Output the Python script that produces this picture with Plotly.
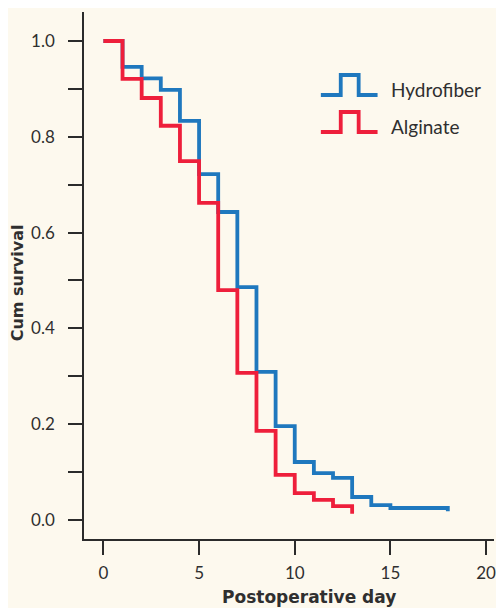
import plotly.graph_objects as go

# Data
days_hydro = [0, 1, 2, 3, 4, 5, 6, 7, 8, 9, 10, 11, 12, 13, 14, 15, 16, 17, 18]
surv_hydro = [1.0, 0.946, 0.922, 0.898, 0.833, 0.722, 0.643, 0.486, 0.309, 0.196,
              0.121, 0.098, 0.088, 0.048, 0.031, 0.025, 0.025, 0.025, 0.018]
days_alg = [0, 1, 2, 3, 4, 5, 6, 7, 8, 9, 10, 11, 12, 13]
surv_alg = [1.0, 0.921, 0.881, 0.823, 0.749, 0.662, 0.480, 0.307, 0.186, 0.094,
            0.056, 0.042, 0.029, 0.013]
series_names = ["Hydrofiber", "Alginate"]
x_ticks = [0, 5, 10, 15, 20]
x_tick_text = ["0", "5", "10", "15", "20"]
y_ticks = [0.0, 0.2, 0.4, 0.6, 0.8, 1.0]
y_tick_text = ["0.0", "0.2", "0.4", "0.6", "0.8", "1.0"]
x_title = "Postoperative day"
y_title = "Cum survival"

BLUE = "#1F78BE"
RED = "#EE1F3B"
BG = "#FDF9EE"
AX = "#2b2b2b"
TXT = "#2f2f2f"
FONT = "Lato, 'Open Sans', sans-serif"
BOLD = "'DejaVu Sans', sans-serif"

fig = go.Figure()
fig.add_trace(go.Scatter(x=days_hydro, y=surv_hydro, mode="lines", line_shape="hv",
                         line=dict(color=BLUE, width=3.8), name=series_names[0]))
fig.add_trace(go.Scatter(x=days_alg, y=surv_alg, mode="lines", line_shape="hv",
                         line=dict(color=RED, width=3.8), name=series_names[1]))

# page body adds an 8px margin; visible figure area is page x 8..496
W, H = 488, 600
L, R, T, B = 76, 0, 4, 69
# plot area on the page spans x 84..496, y 12..539
PX0, PX1, PY0, PY1 = 84, 496, 12, 539


def px(xp):
    return (xp - PX0) / (PX1 - PX0)


def py(yp):
    return (PY1 - yp) / (PY1 - PY0)


def pulse(y0):
    pts = [(322, y0), (342, y0), (342, y0 - 20), (360, y0 - 20), (360, y0), (379, y0)]
    return "M " + " L ".join(f"{px(a):.4f},{py(b):.4f}" for a, b in pts)


shapes = []
annotations = []
for name, color, ybase, ytext in [(series_names[0], BLUE, 95, 89), (series_names[1], RED, 132, 126)]:
    shapes.append(dict(type="path", xref="paper", yref="paper", path=pulse(ybase),
                       line=dict(color=color, width=3.8)))
    annotations.append(dict(xref="paper", yref="paper", x=px(390), y=py(ytext),
                            xanchor="left", yanchor="middle", showarrow=False, text=name,
                            font=dict(family=FONT, size=19, color=TXT)))

# axis titles placed where the reference has them
annotations.append(dict(xref="paper", yref="paper", x=px(310), y=py(597),
                        xanchor="center", yanchor="middle", showarrow=False,
                        text=f"<b>{x_title}</b>", font=dict(family=BOLD, size=17, color=TXT)))
annotations.append(dict(xref="paper", yref="paper", x=px(18), y=py(283),
                        xanchor="center", yanchor="middle", showarrow=False, textangle=-90,
                        text=f"<b>{y_title}</b>", font=dict(family=BOLD, size=16, color=TXT)))

fig.update_layout(
    width=W, height=H,
    margin=dict(l=L, r=R, t=T, b=B),
    paper_bgcolor=BG, plot_bgcolor=BG,
    showlegend=False,
    shapes=shapes, annotations=annotations,
    font=dict(family=FONT, size=17, color=TXT),
)
fig.update_xaxes(
    range=[-1.014, 20.414], tickvals=x_ticks, ticktext=x_tick_text,
    showgrid=False, zeroline=False, showline=True, linecolor=AX, linewidth=1.5,
    ticks="outside", ticklen=14, tickwidth=1.5, tickcolor=AX,
    tickfont=dict(family=FONT, size=17, color=TXT),
    ticklabelstandoff=4, ticklabeloverflow="allow",
)
fig.update_yaxes(
    range=[-0.0397, 1.0605], tickvals=y_ticks, ticktext=y_tick_text,
    showgrid=False, zeroline=False, showline=True, linecolor=AX, linewidth=1.5,
    ticks="outside", ticklen=14, tickwidth=1.5, tickcolor=AX,
    minor=dict(dtick=0.1, tick0=0, ticks="outside", ticklen=14, tickwidth=1.5, tickcolor=AX, showgrid=False),
    tickfont=dict(family=FONT, size=17, color=TXT),
    ticklabelstandoff=10,
)

fig.write_html("out.html")
